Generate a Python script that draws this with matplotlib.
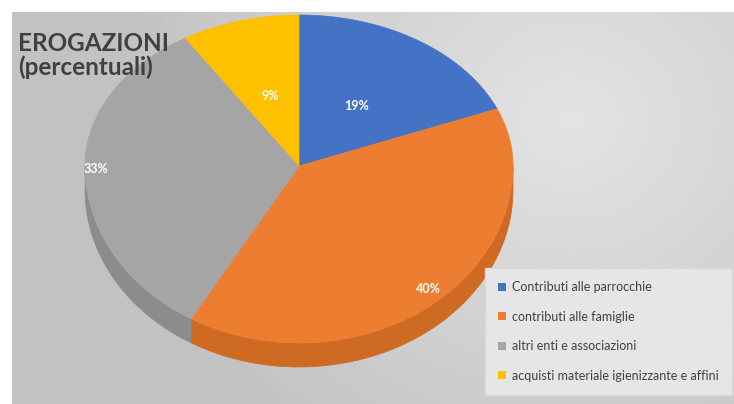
import numpy as np
import matplotlib.pyplot as plt
from matplotlib.patches import Polygon, Patch

# data
categories = ["Contributi alle parrocchie", "contributi alle famiglie",
              "altri enti e associazioni", "acquisti materiale igienizzante e affini"]
values = [19, 40, 33, 9]
labels = [f"{v}%" for v in values]

colors = ["#4472C4", "#ED7D31", "#A5A5A5", "#FFC000"]
side_colors = ["#35599b", "#cf6a22", "#8c8c8c", "#d9a300"]
label_r = [0.48, 0.92, 0.95, 0.48]

plt.rcParams['font.family'] = ['Lato', 'DejaVu Sans']

W, H = 734, 404
fig = plt.figure(figsize=(W / 100, H / 100), dpi=100)
ax = fig.add_axes([0, 0, 1, 1])
ax.set_xlim(0, W)
ax.set_ylim(H, 0)
ax.axis('off')

# background gradient (radial, lighter to the upper right)
yy, xx = np.mgrid[12:H, 12:W]
d = np.sqrt(((xx - 570) / 420.0) ** 2 + ((yy - 120) / 380.0) ** 2)
bg = np.clip(0.89 - 0.12 * d, 0.76, 0.89)
ax.imshow(bg, cmap='gray', vmin=0, vmax=1, extent=(12, W, H, 12),
          origin='upper', aspect='auto', zorder=0, interpolation='bilinear')

# pie geometry (pixels)
cx, ay = 299, 166
rx, ryt, ryb = 214, 151, 177
depth = 24


def pt(theta, r=1.0, dz=0.0):
    t = np.radians(theta)
    s, c = np.sin(t), np.cos(t)
    ry = np.where(c > 0, ryt, ryb)
    return cx + rx * r * s, ay - ry * r * c + dz


total = float(sum(values))
edges = np.concatenate([[0], np.cumsum(values) / total * 360])

# side walls (front half only)
for i in range(len(values)):
    a, b = max(edges[i], 90), min(edges[i + 1], 270)
    if b <= a:
        continue
    th = np.linspace(a, b, 80)
    x, y = pt(th)
    xb, yb = pt(th[::-1], dz=depth)
    poly = np.column_stack([np.concatenate([x, xb]), np.concatenate([y, yb])])
    ax.add_patch(Polygon(poly, closed=True, fc=side_colors[i], ec=side_colors[i], lw=0.5, zorder=2))

# top faces
for i in range(len(values)):
    th = np.linspace(edges[i], edges[i + 1], 120)
    x, y = pt(th)
    poly = np.column_stack([np.concatenate([[cx], x]), np.concatenate([[ay], y])])
    ax.add_patch(Polygon(poly, closed=True, fc=colors[i], ec=colors[i], lw=0.5, zorder=3))

# data labels
for i, lab in enumerate(labels):
    mid = (edges[i] + edges[i + 1]) / 2
    lx, ly = pt(mid, r=label_r[i])
    ax.text(lx, ly, lab, color='white', fontsize=9, fontweight='bold',
            ha='center', va='center', zorder=4)

# title
ax.text(18, 32, "EROGAZIONI\n(percentuali)", fontsize=17.5, fontweight='bold',
        color='#404040', ha='left', va='top', linespacing=1.0, zorder=5)

# legend
handles = [Patch(facecolor=c, edgecolor='none') for c in colors]
leg = fig.legend(handles, categories, loc='upper left',
                 bbox_to_anchor=(485 / W, 1 - 268 / H), borderaxespad=0,
                 fontsize=9, labelspacing=1.4, handlelength=0.6, handleheight=0.6,
                 handletextpad=0.5, borderpad=1.05, fancybox=False, framealpha=1.0,
                 facecolor='#e6e6e6', edgecolor='#dadada')
for t in leg.get_texts():
    t.set_color('#404040')

fig.savefig('out.png', dpi=100, facecolor='white')
